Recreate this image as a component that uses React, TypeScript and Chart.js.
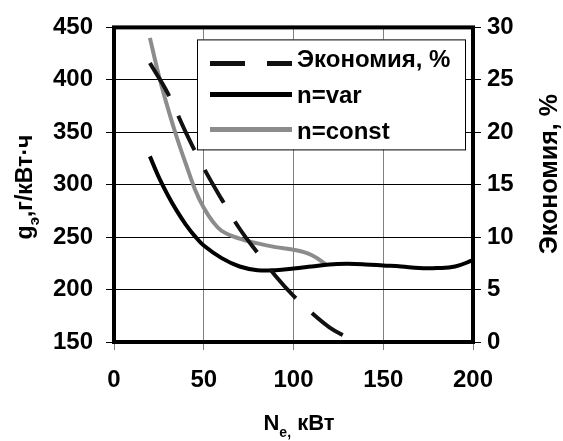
import React, { useEffect, useRef } from "react";
import { Chart, registerables } from "chart.js";

Chart.register(...registerables);

const xTicks = [0, 50, 100, 150, 200];
const leftTicks = [150, 200, 250, 300, 350, 400, 450];
const rightTicks = [0, 5, 10, 15, 20, 25, 30];

const varN = [20, 25, 30, 35, 40, 45, 50, 60, 70, 80, 90, 100, 110, 120, 130, 140, 150, 160, 170, 180, 190, 200];
const varG = [327, 307, 290, 275, 262, 251, 242, 230, 222, 218.5, 218.5, 220, 222, 224, 224.5, 224, 223, 222, 220.5, 220.5, 222, 228];

const constN = [20, 25, 30, 35, 40, 45, 50, 55, 60, 70, 80, 90, 100, 110, 118];
const constG = [440, 404, 373, 345, 320, 296, 278, 265, 256, 248.5, 244, 240.5, 238, 233, 224];

const econN = [20, 30, 40, 50, 60, 70, 80, 90, 100, 110, 120, 130];
const econPct = [26.6, 23.7, 20.0, 16.6, 13.6, 10.8, 8.5, 6.3, 4.4, 2.8, 1.4, 0.4];

const legendLabels = ["Экономия, %", "n=var", "n=const"];

const FONT = "'Liberation Sans', Arial, sans-serif";

type Part = { t: string; sub?: boolean };

function drawRich(ctx: CanvasRenderingContext2D, parts: Part[], size: number) {
  const subSize = Math.round(size * 0.65);
  let total = 0;
  const widths = parts.map((p) => {
    ctx.font = `bold ${p.sub ? subSize : size}px ${FONT}`;
    const w = ctx.measureText(p.t).width;
    total += w;
    return w;
  });
  let x = -total / 2;
  ctx.textBaseline = "alphabetic";
  ctx.textAlign = "left";
  parts.forEach((p, i) => {
    ctx.font = `bold ${p.sub ? subSize : size}px ${FONT}`;
    ctx.fillText(p.t, x, p.sub ? size * 0.3 : 0);
    x += widths[i];
  });
}

const decorPlugin = {
  id: "decor",
  beforeDatasetsDraw(chart: any) {
    const { ctx, chartArea: ca } = chart;
    ctx.save();
    ctx.strokeStyle = "#000";
    ctx.lineWidth = 4;
    ctx.strokeRect(ca.left, ca.top, ca.right - ca.left, ca.bottom - ca.top);
    ctx.restore();
  },
  afterDraw(chart: any) {
    const { ctx, chartArea: ca } = chart;
    ctx.save();
    // legend
    const lx = ca.left + 83;
    const ly = ca.top + 12;
    ctx.fillStyle = "#fff";
    ctx.fillRect(lx, ly, 268, 110);
    ctx.strokeStyle = "#000";
    ctx.lineWidth = 1;
    ctx.strokeRect(lx + 0.5, ly + 0.5, 268, 110);
    const ds = chart.data.datasets;
    const sampleY = [24, 55, 90];
    const textY = [28, 64, 100];
    for (let i = 0; i < 3; i++) {
      const d = ds[i];
      ctx.strokeStyle = d.borderColor;
      ctx.lineWidth = 5;
      ctx.setLineDash(i === 0 ? [35, 22] : []);
      ctx.beginPath();
      ctx.moveTo(lx + 13, ly + sampleY[i]);
      ctx.lineTo(lx + 95, ly + sampleY[i]);
      ctx.stroke();
      ctx.setLineDash([]);
      ctx.fillStyle = "#000";
      ctx.font = `bold 24px ${FONT}`;
      ctx.textAlign = "left";
      ctx.textBaseline = "alphabetic";
      ctx.fillText(legendLabels[i], lx + 100, ly + textY[i]);
    }
    ctx.fillStyle = "#000";
    // left title
    ctx.save();
    ctx.translate(32, 187);
    ctx.rotate(-Math.PI / 2);
    drawRich(ctx, [{ t: "g" }, { t: "э", sub: true }, { t: ",г/кВт·ч" }], 23);
    ctx.restore();
    // right title
    ctx.save();
    ctx.translate(557, 174);
    ctx.rotate(-Math.PI / 2);
    drawRich(ctx, [{ t: "Экономия, %" }], 25);
    ctx.restore();
    // x title
    ctx.save();
    ctx.translate(299, 430);
    drawRich(ctx, [{ t: "N" }, { t: "е,", sub: true }, { t: " кВт" }], 22);
    ctx.restore();
    ctx.restore();
  },
};

export default function App() {
  const ref = useRef<HTMLCanvasElement>(null);
  useEffect(() => {
    const tickFont = { family: FONT, size: 24, weight: "bold" as const };
    const chart = new Chart(ref.current!, {
      type: "line",
      data: {
        datasets: [
          {
            label: legendLabels[0],
            data: econN.map((x, i) => ({ x, y: econPct[i] })),
            yAxisID: "y2",
            borderColor: "#111",
            borderWidth: 4,
            borderDash: [38, 22],
            pointRadius: 0,
            tension: 0.4,
            fill: false,
          },
          {
            label: legendLabels[1],
            data: varN.map((x, i) => ({ x, y: varG[i] })),
            yAxisID: "y",
            borderColor: "#000",
            borderWidth: 4,
            pointRadius: 0,
            tension: 0.4,
            fill: false,
          },
          {
            label: legendLabels[2],
            data: constN.map((x, i) => ({ x, y: constG[i] })),
            yAxisID: "y",
            borderColor: "#8c8c8c",
            borderWidth: 4,
            pointRadius: 0,
            tension: 0.4,
            fill: false,
          },
        ],
      },
      options: {
        animation: false,
        responsive: false,
        maintainAspectRatio: false,
        layout: { padding: { top: 22, left: 0, right: 0, bottom: 0 } },
        plugins: { legend: { display: false }, tooltip: { enabled: false } },
        scales: {
          x: {
            type: "linear",
            min: 0,
            max: 200,
            afterBuildTicks: (s: any) => {
              s.ticks = xTicks.map((v) => ({ value: v }));
            },
            afterFit: (s: any) => {
              s.height = 99;
            },
            grid: { color: "#808080", lineWidth: 1, tickLength: 8, tickColor: "#808080" },
            border: { display: false },
            ticks: { font: tickFont, color: "#000", padding: 16, maxRotation: 0 },
          },
          y: {
            position: "left",
            min: 150,
            max: 450,
            afterBuildTicks: (s: any) => {
              s.ticks = leftTicks.map((v) => ({ value: v }));
            },
            afterFit: (s: any) => {
              s.width = 114;
            },
            grid: { color: "#000", lineWidth: 1, tickLength: 8, tickColor: "#000" },
            border: { display: false },
            ticks: { font: tickFont, color: "#000", padding: 13 },
          },
          y2: {
            position: "right",
            min: 0,
            max: 30,
            afterBuildTicks: (s: any) => {
              s.ticks = rightTicks.map((v) => ({ value: v }));
            },
            afterFit: (s: any) => {
              s.width = 90;
            },
            grid: { drawOnChartArea: false, tickLength: 8, tickColor: "#000" },
            border: { display: false },
            ticks: { font: tickFont, color: "#000", padding: 6 },
          },
        },
      },
      plugins: [decorPlugin],
    });
    return () => chart.destroy();
  }, []);
  return (
    <div style={{ position: "fixed", left: 0, top: 0, width: 563, height: 441, background: "#fff" }}>
      <canvas ref={ref} width={563} height={441} style={{ width: 563, height: 441 }} />
    </div>
  );
}
